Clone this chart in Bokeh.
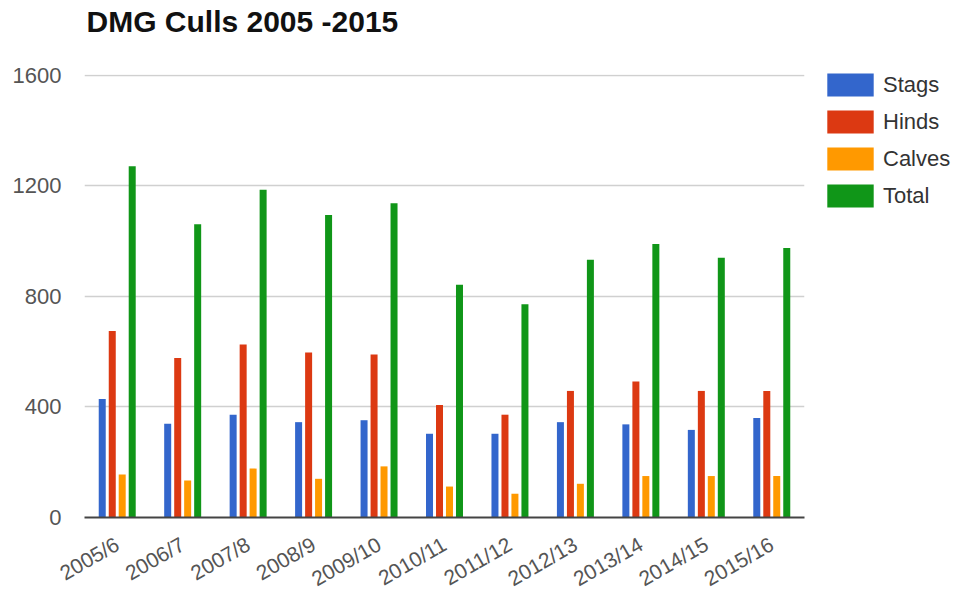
from bokeh.plotting import figure
from bokeh.models import ColumnDataSource, Legend, LegendItem, FactorRange, FixedTicker, Title
from bokeh.transform import dodge
from bokeh.embed import file_html
from bokeh.resources import INLINE

seasons = ["2005/6", "2006/7", "2007/8", "2008/9", "2009/10", "2010/11",
           "2011/12", "2012/13", "2013/14", "2014/15", "2015/16"]
stags = [429, 339, 372, 345, 352, 303, 303, 345, 337, 317, 360]
hinds = [675, 577, 626, 597, 590, 407, 372, 458, 492, 458, 458]
calves = [156, 134, 177, 140, 185, 112, 86, 122, 150, 150, 150]
total = [1271, 1061, 1186, 1095, 1137, 842, 772, 933, 990, 940, 975]
y_ticks = [0, 400, 800, 1200, 1600]

series = ["Stags", "Hinds", "Calves", "Total"]
colors = ["#3366cc", "#dc3912", "#ff9900", "#109618"]

src = ColumnDataSource(dict(season=seasons, Stags=stags, Hinds=hinds, Calves=calves, Total=total))

p = figure(x_range=FactorRange(*seasons), y_range=(0, 1603),
           frame_width=720, frame_height=443,
           output_backend="svg", toolbar_location=None,
           min_border_left=84, min_border_right=0, min_border_top=74, min_border_bottom=0)

offsets = [-0.229, -0.076, 0.076, 0.229]
items = []
for s, c, o in zip(series, colors, offsets):
    r = p.vbar(x=dodge("season", o, range=p.x_range), top=s, width=0.107, source=src,
               fill_color=c, line_color=None)
    items.append(LegendItem(label=s, renderers=[r]))

p.title.text = "DMG Culls 2005 -2015"
p.title.text_font = "Liberation Sans"
p.title.text_font_size = "30px"
p.title.text_font_style = "bold"
p.title.text_color = "#111111"
p.title.offset = 2
p.title.standoff = 8
p.title.vertical_align = "top"

spacer = Title(text=" ", text_font_size="1px", standoff=28)
p.add_layout(spacer, "above")

p.outline_line_color = None
p.xgrid.grid_line_color = None
p.ygrid.grid_line_color = "#d0d0d0"
p.ygrid.grid_line_width = 1.5
p.yaxis.ticker = FixedTicker(ticks=y_ticks)
p.yaxis.axis_line_color = None
p.yaxis.major_tick_line_color = None
p.yaxis.minor_tick_line_color = None
p.yaxis.major_label_text_font = "Liberation Sans"
p.yaxis.major_label_text_font_size = "22px"
p.yaxis.major_label_text_color = "#555555"
p.yaxis.major_label_standoff = 17

p.xaxis.axis_line_color = "#444444"
p.xaxis.axis_line_width = 2
p.xaxis.major_tick_line_color = None
p.xaxis.minor_tick_line_color = None
p.xaxis.major_label_text_font = "Liberation Sans"
p.xaxis.major_label_text_font_size = "21px"
p.xaxis.major_label_text_color = "#555555"
p.xaxis.major_label_orientation = 0.52
p.xaxis.major_label_standoff = 19

legend = Legend(items=items, location=(17, 307), margin=0, padding=0, spacing=8,
                glyph_width=58, glyph_height=29, label_standoff=4,
                label_text_font="Liberation Sans", label_text_font_size="22px",
                label_text_color="#333333", border_line_color=None,
                background_fill_alpha=0)
p.add_layout(legend, "right")

open("out.html", "w").write(file_html(p, INLINE))
